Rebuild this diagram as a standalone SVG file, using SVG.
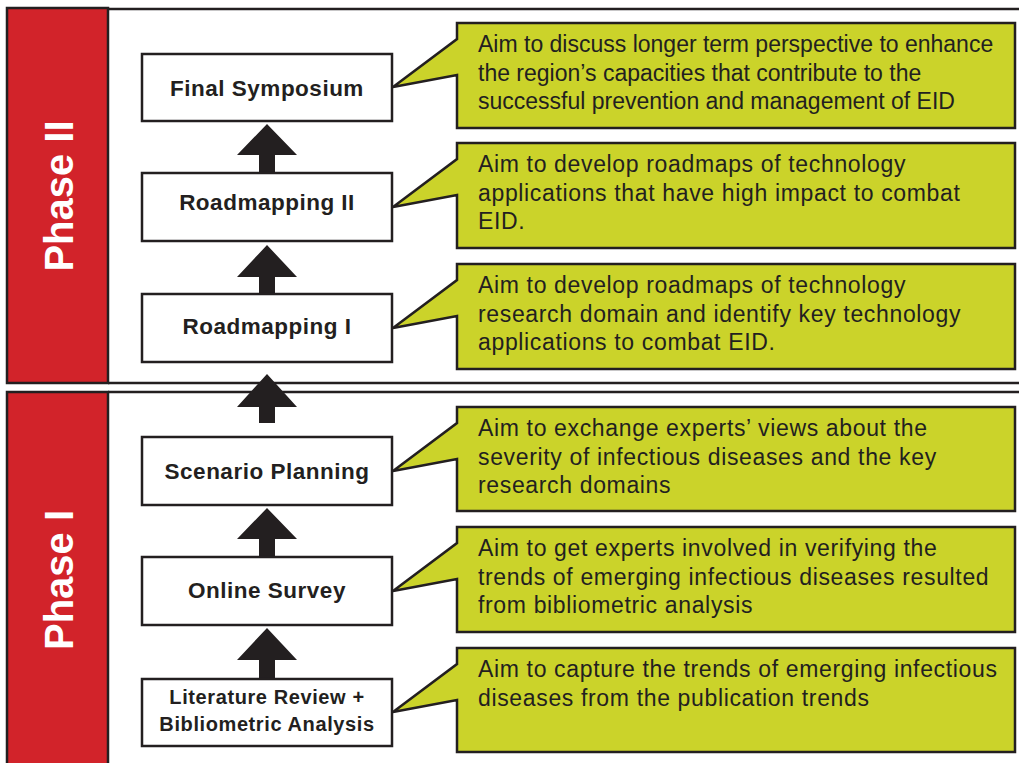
<svg xmlns="http://www.w3.org/2000/svg" width="1019" height="763" viewBox="0 0 1019 763">
<defs>
<style>
.frame{fill:#ffffff;stroke:#231f20;stroke-width:2.5}
.phase{fill:#d2232a;stroke:#231f20;stroke-width:2.5}
.phtxt{font-family:"Liberation Sans",Arial,sans-serif;font-weight:bold;font-size:40px;fill:#ffffff;text-anchor:middle}
.box{fill:#ffffff;stroke:#231f20;stroke-width:2.5}
.ntxt{font-family:"Liberation Sans",Arial,sans-serif;font-weight:bold;font-size:22.5px;letter-spacing:0.5px;fill:#231f20;text-anchor:middle}
.ntxt2{font-family:"Liberation Sans",Arial,sans-serif;font-weight:bold;font-size:20px;letter-spacing:0.6px;fill:#231f20;text-anchor:middle}
.call{fill:#cbd32a;stroke:#231f20;stroke-width:2.5;stroke-linejoin:miter}
.ctxt{font-family:"Liberation Sans",Arial,sans-serif;font-size:23px;fill:#231f20}
.ctxw{letter-spacing:0.65px}
.arr{fill:#231f20}
</style>
</defs>

<g id="phase2">
<line x1="108" y1="9" x2="1019" y2="9" stroke="#231f20" stroke-width="2.5"/>
<line x1="108" y1="383" x2="1019" y2="383" stroke="#231f20" stroke-width="2.5"/>
<rect class="phase" x="7" y="8" width="101" height="375"/>
<text class="phtxt" transform="translate(73,196) rotate(-90)">Phase II</text>
</g>

<g id="phase1">
<line x1="108" y1="392" x2="1019" y2="392" stroke="#231f20" stroke-width="2.5"/>
<rect class="phase" x="7" y="392" width="101" height="380"/>
<text class="phtxt" transform="translate(73,580) rotate(-90)">Phase I</text>
</g>

<g id="connectors">
<path class="arr" d="M267,124 L297,155 L275,155 L275,173 L259,173 L259,155 L237,155 Z"/>
<path class="arr" d="M267,245 L297,277 L275,277 L275,294 L259,294 L259,277 L237,277 Z"/>
<path class="arr" d="M267,374 L297,407 L275,407 L275,423 L259,423 L259,407 L237,407 Z"/>
<path class="arr" d="M267,508 L297,539 L275,539 L275,557 L259,557 L259,539 L237,539 Z"/>
<path class="arr" d="M267,628 L297,660 L275,660 L275,679 L259,679 L259,660 L237,660 Z"/>
</g>

<g id="node-final-symposium">
<rect class="box" x="142" y="54" width="250" height="67"/>
<text class="ntxt" x="267" y="95.5">Final Symposium</text>
</g>
<g id="node-roadmapping-2">
<rect class="box" x="142" y="173" width="250" height="68"/>
<text class="ntxt" x="267" y="209.5">Roadmapping II</text>
</g>
<g id="node-roadmapping-1">
<rect class="box" x="142" y="294" width="250" height="68"/>
<text class="ntxt" x="267" y="333.5">Roadmapping I</text>
</g>
<g id="node-scenario-planning">
<rect class="box" x="142" y="437" width="250" height="68"/>
<text class="ntxt" x="267" y="479">Scenario Planning</text>
</g>
<g id="node-online-survey">
<rect class="box" x="142" y="557" width="250" height="68"/>
<text class="ntxt" x="267" y="597.5">Online Survey</text>
</g>
<g id="node-literature-review">
<rect class="box" x="142" y="679" width="250" height="67"/>
<text class="ntxt2" x="267" y="704">Literature Review +</text>
<text class="ntxt2" x="267" y="731">Bibliometric Analysis</text>
</g>

<g id="callout-1">
<path class="call" d="M457,23 L1015,23 L1015,128 L457,128 L457,75 L393,87 L457,39 Z"/>
<text class="ctxt" x="478" y="52">Aim to discuss longer term perspective to enhance</text>
<text class="ctxt" x="478" y="80.7">the region’s capacities that contribute to the</text>
<text class="ctxt" x="478" y="109.4">successful prevention and management of EID</text>
</g>
<g id="callout-2">
<path class="call" d="M457,143 L1015,143 L1015,248 L457,248 L457,195 L393,207 L457,159 Z"/>
<text class="ctxt ctxw" x="478" y="172">Aim to develop roadmaps of technology</text>
<text class="ctxt ctxw" x="478" y="200.7">applications that have high impact to combat</text>
<text class="ctxt ctxw" x="478" y="229.4">EID.</text>
</g>
<g id="callout-3">
<path class="call" d="M457,264 L1015,264 L1015,369 L457,369 L457,316 L393,328 L457,280 Z"/>
<text class="ctxt ctxw" x="478" y="293">Aim to develop roadmaps of technology</text>
<text class="ctxt ctxw" x="478" y="321.7">research domain and identify key technology</text>
<text class="ctxt ctxw" x="478" y="350.4">applications to combat EID.</text>
</g>
<g id="callout-4">
<path class="call" d="M457,407 L1015,407 L1015,511 L457,511 L457,459 L393,471 L457,423 Z"/>
<text class="ctxt ctxw" x="478" y="436">Aim to exchange experts’ views about the</text>
<text class="ctxt ctxw" x="478" y="464.7">severity of infectious diseases and the key</text>
<text class="ctxt ctxw" x="478" y="493.4">research domains</text>
</g>
<g id="callout-5">
<path class="call" d="M457,527 L1015,527 L1015,632 L457,632 L457,579 L393,591 L457,543 Z"/>
<text class="ctxt ctxw" x="478" y="556">Aim to get experts involved in verifying the</text>
<text class="ctxt ctxw" x="478" y="584.7">trends of emerging infectious diseases resulted</text>
<text class="ctxt ctxw" x="478" y="613.4">from bibliometric analysis</text>
</g>
<g id="callout-6">
<path class="call" d="M457,648 L1015,648 L1015,752 L457,752 L457,700 L393,712 L457,664 Z"/>
<text class="ctxt ctxw" x="478" y="677">Aim to capture the trends of emerging infectious</text>
<text class="ctxt ctxw" x="478" y="705.7">diseases from the publication trends</text>
</g>
</svg>
